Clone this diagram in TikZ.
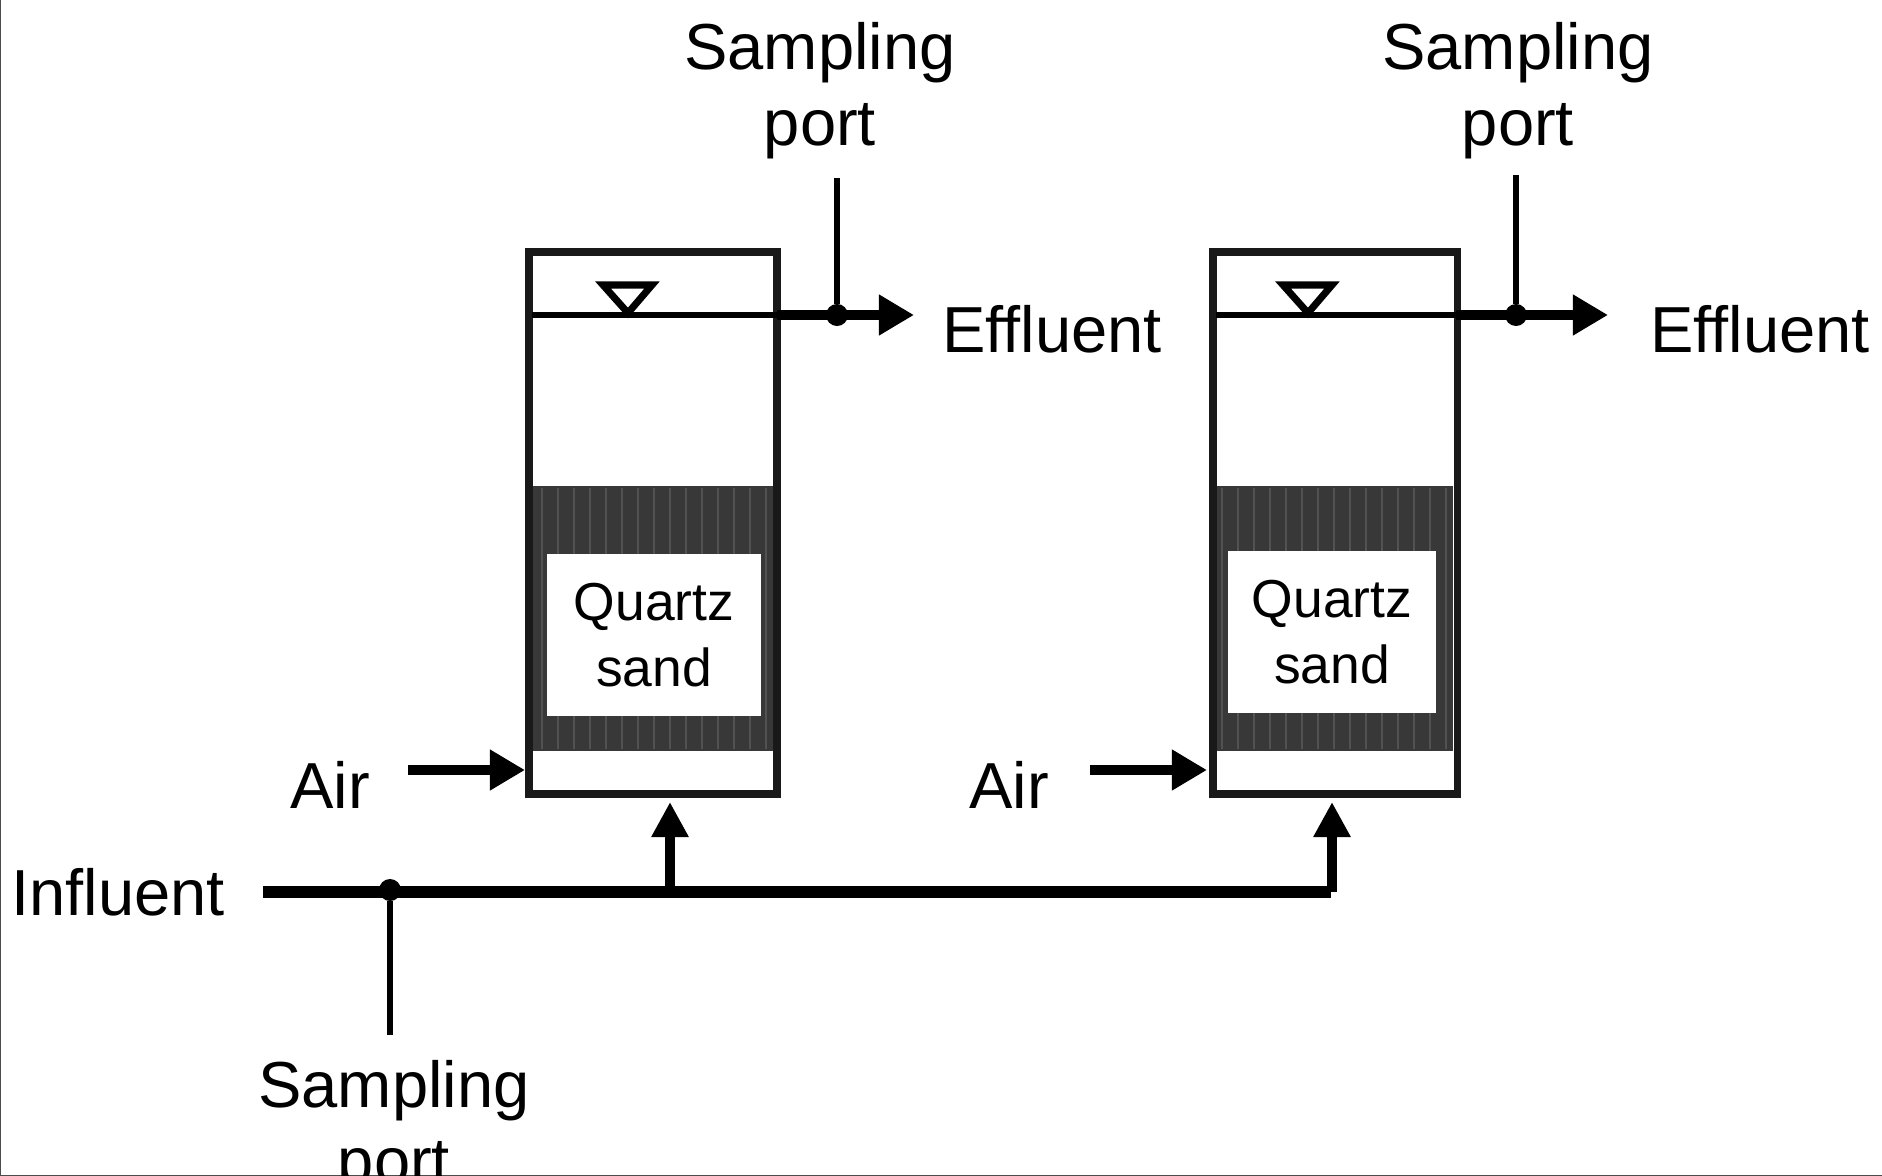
\documentclass[tikz,border=0pt]{standalone}
\usepackage{fontspec}
\setmainfont{Liberation Sans}
\usetikzlibrary{arrows.meta,positioning}

\begin{document}
\begin{tikzpicture}[
  x=0.01cm, y=-0.01cm,
  tank/.style={rectangle, draw=black!90, line width=2.2pt, inner sep=0pt,
               outer sep=0pt, minimum height=5.42cm},
  sand/.style={rectangle, fill=black!78, inner sep=0pt, outer sep=0pt, minimum height=2.65cm},
  sandbox/.style={rectangle, fill=white, inner sep=0pt, outer sep=0pt, minimum height=1.62cm,
                  align=center, font=\fontsize{15.2}{18.8}\selectfont, text=black},
  label/.style={inner sep=0pt, outer sep=0pt, align=center, text=black,
                font=\fontsize{18.5}{21.6}\selectfont},
  portlabel/.style={label, anchor=north},
  tap/.style={circle, fill=black, inner sep=0pt, outer sep=0pt, minimum size=0.22cm},
  level/.style={line width=1.5pt},
  stem/.style={line width=1.8pt},
  arrow/.style={-{Triangle[length=10pt, width=11pt]}, line width=2.6pt},
  feed/.style={line width=3.2pt, line cap=square},
  riser/.style={-{Triangle[length=10pt, width=10pt]}, line width=2.6pt},
  float/.style={draw=black, line width=2pt, line join=miter},
  hatch/.style={draw=black!68, line width=0.7pt}
]
  \useasboundingbox (0,0) rectangle (1882,1176);
  \clip (0,0) rectangle (1882,1176);
  \draw[black!70, line width=0.7pt] (0,0) -- (0,1176) -- (1882,1176);

  \node[tank, minimum width=2.48cm] (tankA) at (653,523) {};
  \node[tank, minimum width=2.44cm, right=4.36cm of tankA] (tankB) {};

  \node[sand, minimum width=2.42cm] (sandA) at (653,618.5) {};
  \node[sand, minimum width=2.38cm] (sandB) at (1334,618.5) {};
  \foreach \px in {542,558,...,766} {\draw[hatch] (\px,488) -- (\px,749);}
  \foreach \px in {1222,1238,...,1446} {\draw[hatch] (\px,488) -- (\px,749);}
  \draw[tank] (tankA.north west) rectangle (tankA.south east);
  \draw[tank] (tankB.north west) rectangle (tankB.south east);

  \node[sandbox, minimum width=2.14cm] (quartzA) at (654,635) {Quartz\\sand};
  \node[sandbox, minimum width=2.08cm] (quartzB) at (1332,632) {Quartz\\sand};

  % water level and outlet
  \coordinate (levelA) at (532,315);
  \coordinate (wallA) at (777,315);
  \coordinate (outA) at (914,315);
  \coordinate (levelB) at (1216,315);
  \coordinate (wallB) at (1456,315);
  \coordinate (outB) at (1608,315);
  \node[tap] (tapA) at (837,315) {};
  \node[tap] (tapB) at (1516,315) {};
  \draw[level] (levelA) -- (wallA);
  \draw[level] (levelB) -- (wallB);
  \draw[arrow] (wallA) -- (outA);
  \draw[arrow] (wallB) -- (outB);
  \draw[float] (603,285) -- (652,285) -- (628,313) -- cycle;
  \draw[float] (1283,285) -- (1332,285) -- (1308,313) -- cycle;

  \node[label] (effluentA) at (1052,329) {Effluent};
  \node[label] (effluentB) at (1760,329) {Effluent};

  \node[portlabel] (portA) at (820,22) {Sampling\\port};
  \node[portlabel] (portB) at (1518,22) {Sampling\\port};
  \coordinate (stemA) at (837,178);
  \coordinate (stemB) at (1516,175);
  \draw[stem] (stemA) -- (tapA);
  \draw[stem] (stemB) -- (tapB);

  % air
  \node[label] (airA) at (330,785) {Air};
  \node[label] (airB) at (1009,785) {Air};
  \coordinate (airstartA) at (408,770);
  \coordinate (airendA) at (525,770);
  \coordinate (airstartB) at (1090,770);
  \coordinate (airendB) at (1207,770);
  \draw[arrow] (airstartA) -- (airendA);
  \draw[arrow] (airstartB) -- (airendB);

  % influent line
  \node[label] (influent) at (118,892) {Influent};
  \coordinate (feedstart) at (263,892);
  \coordinate (teeA) at (670,892);
  \coordinate (teeB) at (1331,892);
  \coordinate (tipA) at (670,802);
  \coordinate (tipB) at (1332,802);
  \node[tap] (tapC) at (390,890) {};
  \draw[feed] (feedstart) -- (teeB);
  \draw[riser] (teeA) -- (tipA);
  \draw[riser] (teeB -| tipB) -- (tipB);

  \node[portlabel] (portC) at (394,1060) {Sampling\\port};
  \coordinate (stemC) at (390,1035);
  \draw[stem] (tapC) -- (stemC);
\end{tikzpicture}
\end{document}
